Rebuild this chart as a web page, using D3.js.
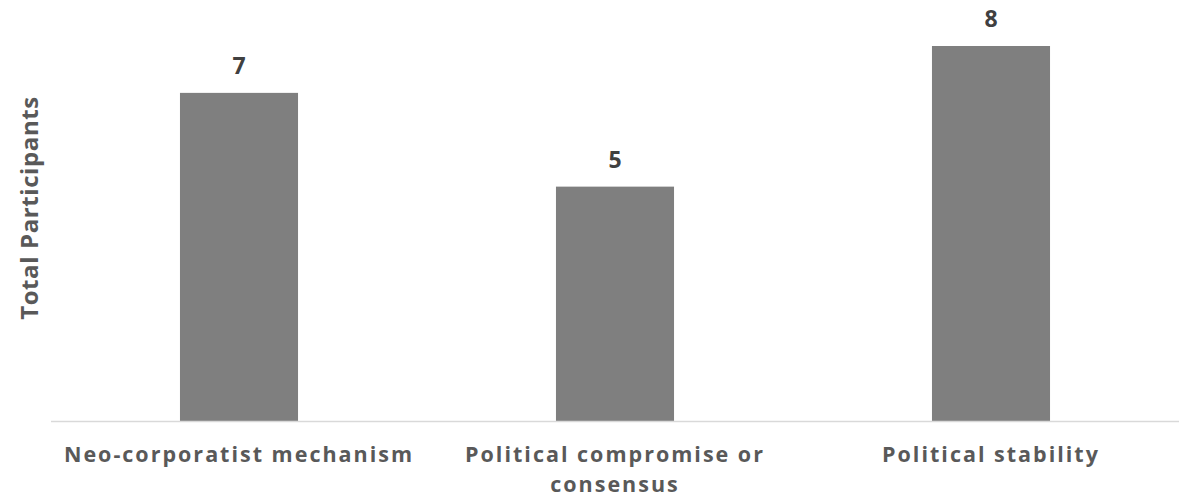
<!DOCTYPE html>
<html><head><meta charset="utf-8">
<script src="https://cdn.jsdelivr.net/npm/d3@7"></script>
<style>body{margin:0;background:#fff}svg{display:block}</style>
</head><body>
<script>
const categories = ["Neo-corporatist mechanism", "Political compromise or consensus", "Political stability"];
const categoryLines = [["Neo-corporatist mechanism"], ["Political compromise or", "consensus"], ["Political stability"]];
const values = [7, 5, 8];
const yTitle = "Total Participants";

const W = 1187, H = 497;
const svg = d3.select("body").append("svg").attr("width", W).attr("height", H);
const x = d3.scaleBand().domain(categories).range([51, 1179]).paddingInner(0.686).paddingOuter(0.343);
const y = d3.scaleLinear().domain([0, 8]).range([421, 46]);

svg.selectAll("rect.bar").data(values).enter().append("rect")
  .attr("class", "bar")
  .attr("x", (d, i) => x(categories[i]))
  .attr("width", x.bandwidth())
  .attr("y", d => y(d))
  .attr("height", d => y(0) - y(d))
  .attr("fill", "#7f7f7f");

svg.append("line").attr("x1", 51).attr("x2", 1179).attr("y1", y(0)+0.5).attr("y2", y(0)+0.5)
  .attr("stroke", "#d9d9d9").attr("stroke-width", 1.5);

svg.selectAll("text.val").data(values).enter().append("text")
  .attr("class", "val")
  .attr("x", (d, i) => x(categories[i]) + x.bandwidth()/2)
  .attr("y", d => y(d) - 19)
  .attr("text-anchor", "middle")
  .attr("font-family", "Open Sans, sans-serif").attr("font-weight", "bold")
  .attr("font-size", 23).attr("fill", "#404040")
  .text(d => d);

categories.forEach((c, i) => {
  const t = svg.append("text")
    .attr("x", x(c) + x.bandwidth()/2)
    .attr("y", 462)
    .attr("text-anchor", "middle")
    .attr("font-family", "Open Sans, sans-serif").attr("font-weight", "bold")
    .attr("font-size", 21.5).attr("letter-spacing", 2).attr("fill", "#595959");
  categoryLines[i].forEach((l, j) => {
    t.append("tspan").attr("x", x(c) + x.bandwidth()/2).attr("dy", j ? 29.5 : 0).text(l);
  });
});

svg.append("text")
  .attr("transform", "translate(38,208) rotate(-90)")
  .attr("text-anchor", "middle")
  .attr("font-family", "Open Sans, sans-serif").attr("font-weight", "bold")
  .attr("font-size", 24).attr("letter-spacing", 0.6).attr("fill", "#595959")
  .text(yTitle);
</script>
</body></html>
